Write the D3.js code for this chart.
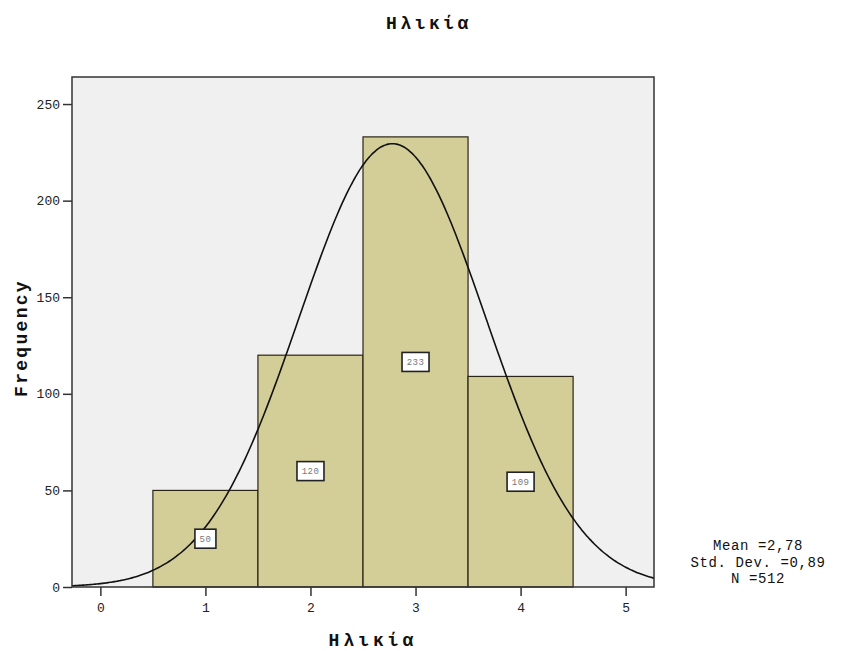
<!DOCTYPE html>
<html>
<head>
<meta charset="utf-8">
<script src="https://cdn.jsdelivr.net/npm/d3@7/dist/d3.min.js"></script>
<style>
  body { margin: 0; background: #fff; }
  svg text { font-family: "Liberation Mono", "DejaVu Sans Mono", monospace; }
</style>
</head>
<body>
<svg id="chart" width="844" height="651"></svg>
<script>
// Age histogram with fitted normal curve
const categories = [1, 2, 3, 4];
const counts = [50, 120, 233, 109];
const xTicks = [0, 1, 2, 3, 4, 5];
const yTicks = [0, 50, 100, 150, 200, 250];
const stats = { mean: 2.78, sd: 0.89, n: 512 };
const statLines = ["Mean =2,78", "Std. Dev. =0,89", "N =512"];
const titleText = "Ηλικία";
const xLabel = "Ηλικία";
const yLabel = "Frequency";

const svg = d3.select("#chart");
const plot = { left: 72, top: 77, right: 654, bottom: 587 };

const x = d3.scaleLinear().domain([-0.27, 5.27]).range([plot.left, plot.right]);
const y = d3.scaleLinear().domain([0, 264]).range([plot.bottom, plot.top]);

// plot background
svg.append("rect")
  .attr("x", plot.left).attr("y", plot.top)
  .attr("width", plot.right - plot.left).attr("height", plot.bottom - plot.top)
  .attr("fill", "#f0f0f0");

svg.append("clipPath").attr("id", "clip")
  .append("rect")
  .attr("x", plot.left).attr("y", plot.top)
  .attr("width", plot.right - plot.left).attr("height", plot.bottom - plot.top);

// bars
svg.append("g").selectAll("rect")
  .data(categories)
  .join("rect")
  .attr("x", (d) => x(d - 0.5))
  .attr("y", (d, i) => y(counts[i]))
  .attr("width", (d) => x(d + 0.5) - x(d - 0.5))
  .attr("height", (d, i) => y(0) - y(counts[i]))
  .attr("fill", "#d3cd98")
  .attr("stroke", "#2b2516")
  .attr("stroke-width", 1.2);

// normal curve scaled to counts (bin width 1)
const pdf = (v) => stats.n * Math.exp(-0.5 * ((v - stats.mean) / stats.sd) ** 2) / (stats.sd * Math.sqrt(2 * Math.PI));
const curvePts = d3.range(-0.3, 5.31, 0.02).map((v) => [v, pdf(v)]);
svg.append("path")
  .attr("clip-path", "url(#clip)")
  .datum(curvePts)
  .attr("fill", "none")
  .attr("stroke", "#111")
  .attr("stroke-width", 1.6)
  .attr("d", d3.line().x((d) => x(d[0])).y((d) => y(d[1])).curve(d3.curveBasis));

// value labels at half bar height
const boxW = (v) => String(v).length * 6 + 9;
const lab = svg.append("g").selectAll("g")
  .data(categories)
  .join("g")
  .attr("transform", (d, i) => `translate(${x(d)},${y(counts[i] / 2)})`);
lab.append("rect")
  .attr("x", (d, i) => -boxW(counts[i]) / 2)
  .attr("y", -9.5)
  .attr("width", (d, i) => boxW(counts[i]))
  .attr("height", 19)
  .attr("fill", "#fff")
  .attr("stroke", "#222")
  .attr("stroke-width", 1.6);
lab.append("text")
  .attr("text-anchor", "middle")
  .attr("dy", "0.35em")
  .attr("font-size", 9)
  .attr("letter-spacing", 0.5)
  .attr("fill", "#777")
  .text((d, i) => counts[i]);

// frame
svg.append("rect")
  .attr("x", plot.left).attr("y", plot.top)
  .attr("width", plot.right - plot.left).attr("height", plot.bottom - plot.top)
  .attr("fill", "none")
  .attr("stroke", "#333")
  .attr("stroke-width", 1.5);

// axes
const yAxis = svg.append("g")
  .attr("transform", `translate(${plot.left},0)`)
  .call(d3.axisLeft(y).tickValues(yTicks).tickSize(9).tickPadding(3).tickFormat(d3.format("d")));
const xAxis = svg.append("g")
  .attr("transform", `translate(0,${plot.bottom})`)
  .call(d3.axisBottom(x).tickValues(xTicks).tickSize(9).tickPadding(7).tickFormat(d3.format("d")));
[yAxis, xAxis].forEach((a) => {
  a.select(".domain").remove();
  a.selectAll(".tick line").attr("stroke", "#333").attr("stroke-width", 1.5);
  a.selectAll(".tick text")
    .attr("font-family", "Liberation Mono, monospace")
    .attr("font-size", 13)
    .attr("fill", "#222");
});

// titles
svg.append("text")
  .attr("x", 429).attr("y", 29)
  .attr("text-anchor", "middle")
  .attr("font-size", 18).attr("font-weight", "bold")
  .attr("letter-spacing", 3.5)
  .attr("fill", "#111")
  .text(titleText);
svg.append("text")
  .attr("x", 373).attr("y", 646)
  .attr("text-anchor", "middle")
  .attr("font-size", 18).attr("font-weight", "bold")
  .attr("letter-spacing", 4)
  .attr("fill", "#111")
  .text(xLabel);
svg.append("text")
  .attr("transform", `translate(27,${338}) rotate(-90)`)
  .attr("text-anchor", "middle")
  .attr("font-size", 18).attr("font-weight", "bold")
  .attr("letter-spacing", 2.3)
  .attr("fill", "#111")
  .text(yLabel);

// summary statistics
svg.append("g").selectAll("text")
  .data(statLines)
  .join("text")
  .attr("x", 758)
  .attr("y", (d, i) => 550 + i * 16.5)
  .attr("text-anchor", "middle")
  .attr("font-size", 14)
  .attr("letter-spacing", 0.6)
  .attr("fill", "#111")
  .text((d) => d);
</script>
</body>
</html>
